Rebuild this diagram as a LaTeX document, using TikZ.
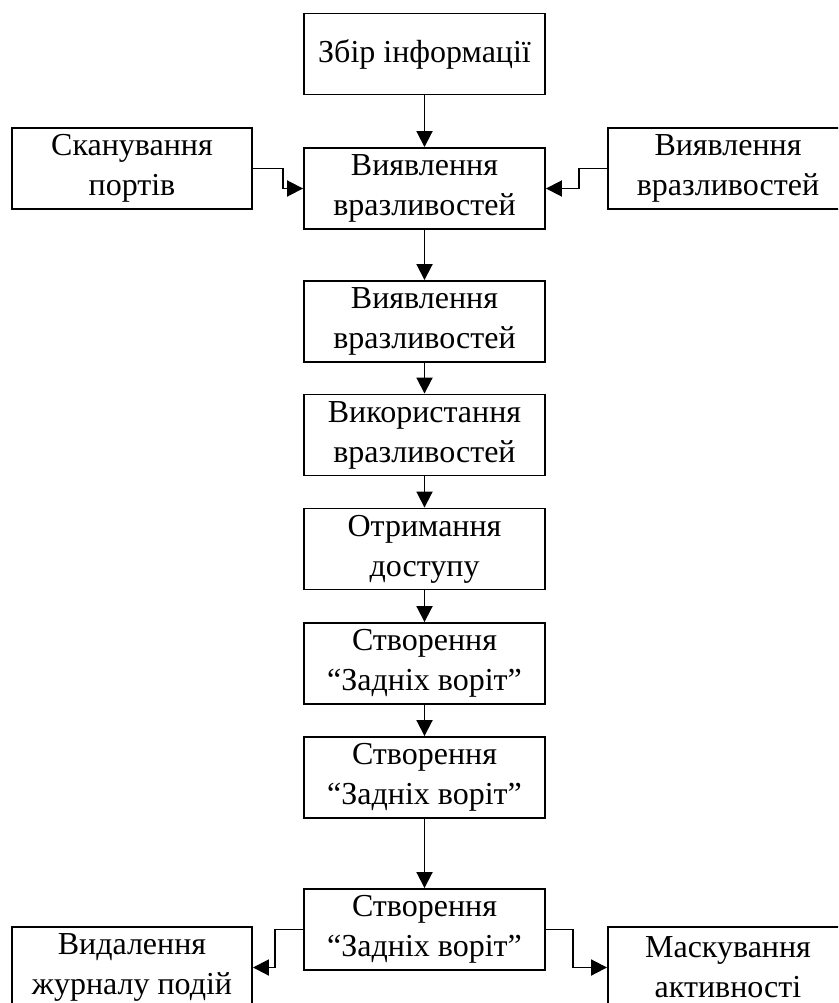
\documentclass[tikz,border=0pt]{standalone}
\usepackage{fontspec}
\setmainfont{Liberation Serif}
\usetikzlibrary{arrows.meta}
\begin{document}
\begin{tikzpicture}[x=1pt,y=-1pt,
  stage/.style={draw=black, line width=1.9pt, fill=white, inner sep=0pt,
    minimum width=241pt, minimum height=81pt, align=center,
    font=\fontsize{32}{40}\selectfont},
  side/.style={stage, minimum width=240pt},
  flow/.style={draw=black, line width=1.9pt,
    -{Triangle[length=16pt,width=16pt]}}]
  % page frame; the outer boxes run past its edges
  \clip (0,0) rectangle (838,1003);
  \fill[white] (0,0) rectangle (838,1003);

  % main column
  \node[stage] (info)   at (424.5,54)    {Збір інформації};
  \node[stage] (vuln1)  at (424.5,188.5) {Виявлення\\вразливостей};
  \node[stage] (vuln2)  at (424.5,321.5) {Виявлення\\вразливостей};
  \node[stage] (use)    at (424.5,435)   {Використання\\вразливостей};
  \node[stage] (access) at (424.5,549)   {Отримання\\доступу};
  \node[stage] (back1)  at (424.5,663.5) {Створення\\“Задніх воріт”};
  \node[stage] (back2)  at (424.5,777.5) {Створення\\“Задніх воріт”};
  \node[stage] (back3)  at (424.5,929.5) {Створення\\“Задніх воріт”};

  % side boxes
  \node[side] (scan)  at (132,168.5) {Сканування\\портів};
  \node[side] (vulnr) at (728,168.5) {Виявлення\\вразливостей};
  \node[side] (logs)  at (132,967.5) {Видалення\\журналу подій};
  \node[side] (mask)  at (728,967.5) {Маскування\\активності};

  % vertical flow
  \draw[flow] (info)   -- (vuln1);
  \draw[flow] (vuln1)  -- (vuln2);
  \draw[flow] (vuln2)  -- (use);
  \draw[flow] (use)    -- (access);
  \draw[flow] (access) -- (back1);
  \draw[flow] (back1)  -- (back2);
  \draw[flow] (back2)  -- (back3);

  % side inputs
  \draw[flow] (scan.east)  -- ++(30,0) |- (vuln1.west);
  \draw[flow] (vulnr.west) -- ++(-28,0) |- (vuln1.east);

  % side outputs
  \draw[flow] (back3.west) -- ++(-28,0) |- (logs.east);
  \draw[flow] (back3.east) -- ++(27,0) |- (mask.west);
\end{tikzpicture}
\end{document}
